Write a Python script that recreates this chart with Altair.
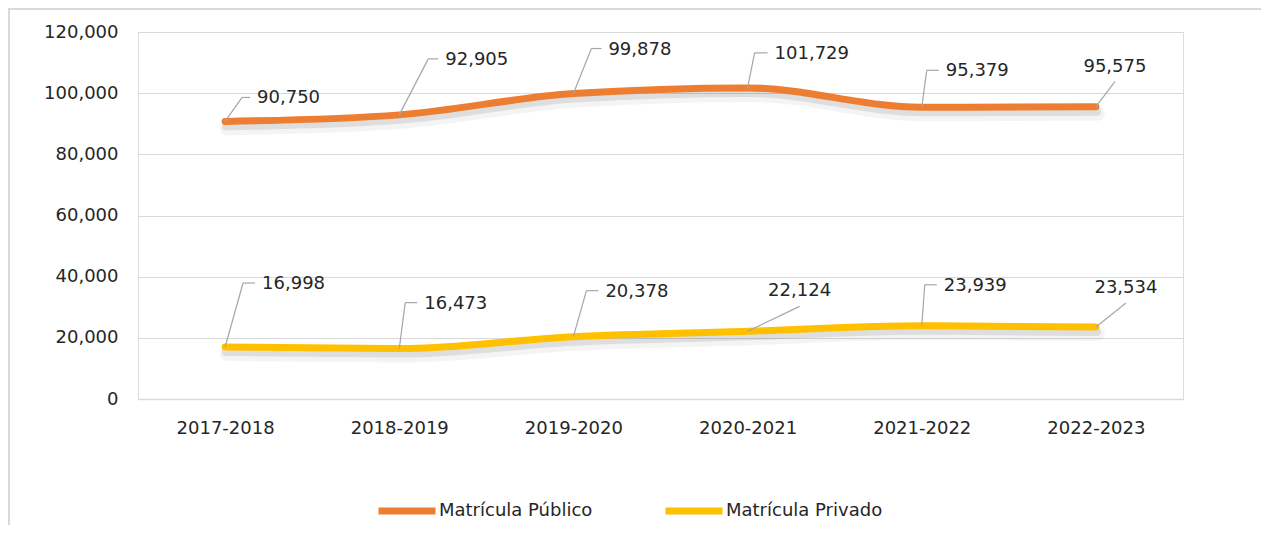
import altair as alt
import pandas as pd

# ---- data ----
categories = ["2017-2018", "2018-2019", "2019-2020", "2020-2021", "2021-2022", "2022-2023"]
publico = [90750, 92905, 99878, 101729, 95379, 95575]
privado = [16998, 16473, 20378, 22124, 23939, 23534]
series_names = ["Matrícula Público", "Matrícula Privado"]
series_colors = ["#ED7D31", "#FFC000"]
y_ticks = [0, 20000, 40000, 60000, 80000, 100000, 120000]

# ---- label leader layout (pixel offsets from the point) ----
pub_ex = [17, 29, 18, 7, 5, 19]
pub_ey = [-24, -56, -45, -35, -37, -25]
pub_hl = [8, 10, 10, 13, 12, 0]
priv_ex = [18, 6, 13, 52, 3, 30]
priv_ey = [-64, -46, -46, -25, -41, -24]
priv_hl = [12, 12, 12, 0, 12, 0]

W, H = 1045, 367
YMAX = y_ticks[-1]
N = len(categories)
UX = N / W          # data units per pixel along x
UY = YMAX / H       # data units per pixel along y

df = pd.DataFrame({
    "idx": list(range(N)) * 2,
    "cat": categories * 2,
    "serie": [series_names[0]] * N + [series_names[1]] * N,
    "valor": publico + privado,
    "ex": pub_ex + priv_ex,
    "ey": pub_ey + priv_ey,
    "hl": pub_hl + priv_hl,
})

FONT = "DejaVu Sans"
TXT = "#262626"
GRID = "#d9d9d9"

label_expr = "[" + ",".join("'%s'" % c for c in categories) + "][datum.value]"

xscale = alt.Scale(domain=[-0.5, N - 0.5], nice=False, zero=False)
yscale = alt.Scale(domain=[0, YMAX], nice=False)

x_axis = alt.Axis(values=list(range(N)), labelExpr=label_expr, grid=False,
                  ticks=False, domain=True, domainColor=GRID, domainWidth=1.5,
                  labelFontSize=18, labelColor=TXT, labelPadding=20, labelFont=FONT)
y_axis = alt.Axis(values=y_ticks, labelExpr="format(datum.value, ',')", grid=True,
                  gridColor=GRID, gridWidth=1, ticks=False, domain=False,
                  labelFontSize=18, labelColor=TXT, labelPadding=20, labelFont=FONT)

base = alt.Chart(df)
x_enc = alt.X("idx:Q", scale=xscale, title=None, axis=x_axis)
y_enc = alt.Y("valor:Q", scale=yscale, title=None, axis=y_axis)

frame = alt.Chart(pd.DataFrame({"a": [0]})).mark_rect(
    fill=None, stroke=GRID, strokeWidth=2
).encode(x=alt.value(-129), x2=alt.value(1300), y=alt.value(-23), y2=alt.value(700))

shadow1 = base.mark_line(interpolate="monotone", strokeWidth=14, color="#000000",
                         opacity=0.045, yOffset=7, xOffset=2, strokeCap="round").encode(
    x=x_enc, y=y_enc, detail="serie:N")
shadow2 = base.mark_line(interpolate="monotone", strokeWidth=8, color="#000000",
                         opacity=0.09, yOffset=5, xOffset=1, strokeCap="round").encode(
    x=x_enc, y=y_enc, detail="serie:N")

lines = base.mark_line(interpolate="monotone", strokeWidth=7, strokeCap="round").encode(
    x=x_enc, y=y_enc,
    color=alt.Color("serie:N",
                    scale=alt.Scale(domain=series_names, range=series_colors),
                    sort=series_names,
                    legend=alt.Legend(title=None, orient="none", direction="horizontal",
                                      legendX=237, legendY=447,
                                      symbolType="stroke", symbolSize=3249,
                                      symbolStrokeWidth=7, labelFontSize=18,
                                      labelColor=TXT, labelFont=FONT, labelOffset=0,
                                      columnPadding=58, padding=0)),
)

geo = base.transform_calculate(
    x1=f"datum.idx + datum.ex * {UX}",
    y1=f"datum.valor - datum.ey * {UY}",
).transform_calculate(
    x2=f"datum.x1 + datum.hl * {UX}",
    lbl="format(datum.valor, ',')",
)

lead1 = geo.mark_rule(color="#a6a6a6", strokeWidth=1.2).encode(
    x=x_enc, y=y_enc, x2="x1:Q", y2="y1:Q")
lead2 = geo.transform_filter("datum.hl > 0").mark_rule(color="#a6a6a6", strokeWidth=1.2).encode(
    x=alt.X("x1:Q", scale=xscale, title=None, axis=x_axis),
    y=alt.Y("y1:Q", scale=yscale, title=None, axis=y_axis),
    x2="x2:Q")

text_side = geo.transform_filter("datum.hl > 0").transform_calculate(
    tx=f"datum.x2 + 7 * {UX}", ty=f"datum.y1 - 1 * {UY}"
).mark_text(align="left", baseline="middle", fontSize=18, font=FONT, color=TXT).encode(
    x=alt.X("tx:Q", scale=xscale, title=None, axis=x_axis),
    y=alt.Y("ty:Q", scale=yscale, title=None, axis=y_axis), text="lbl:N")

text_top = geo.transform_filter("datum.hl == 0").transform_calculate(
    tx="datum.x1", ty=f"datum.y1 + 10 * {UY}"
).mark_text(align="center", baseline="alphabetic", fontSize=18, font=FONT, color=TXT).encode(
    x=alt.X("tx:Q", scale=xscale, title=None, axis=x_axis),
    y=alt.Y("ty:Q", scale=yscale, title=None, axis=y_axis), text="lbl:N")

chart = alt.layer(frame, shadow1, shadow2, lines, lead1, lead2, text_side, text_top).properties(
    width=W, height=H,
    autosize=alt.AutoSizeParams(type="none"),
    padding={"left": 130, "top": 24, "right": 78, "bottom": 126},
    background="white",
).configure_view(stroke=None).configure(font=FONT)

chart.save("out.html", embed_options={"renderer": "svg", "actions": False})
